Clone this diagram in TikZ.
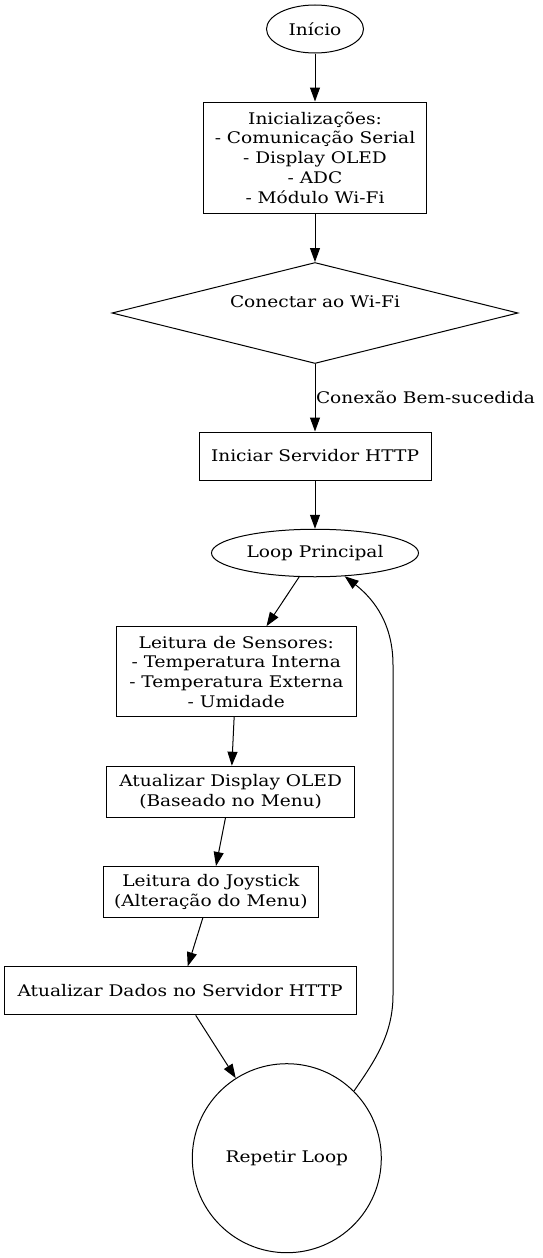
\documentclass[tikz,border=0pt]{standalone}
\usepackage{fontspec}
\setmainfont{DejaVu Serif}[FakeStretch=1.16]
\usetikzlibrary{shapes.geometric,arrows.meta,positioning}

\begin{document}
\begin{tikzpicture}[x=1pt,y=-1pt,auto,line width=1pt,
   font=\fontsize{16}{19.7}\selectfont,
   >={Triangle[length=14pt,width=10pt]},
   terminal/.style={ellipse,draw,inner sep=0pt},
   process/.style={rectangle,draw,align=center,inner sep=0pt},
   decision/.style={diamond,draw,aspect=4,inner sep=0pt},
   repeater/.style={circle,draw,inner sep=0pt}]
   \useasboundingbox (0,0) rectangle (542,1258);

   \node (start) [terminal, minimum width=97pt, minimum height=48pt] at (315,29) {Início};
   \node (init) [process, below of=start, node distance=128.5pt,
      minimum width=223pt, minimum height=111pt]
      {Inicializações:\\- Comunicação Serial\\- Display OLED\\- ADC\\- Módulo Wi-Fi};
   \node (wifi) [decision, below of=init, node distance=155.5pt,
      minimum width=406pt, minimum height=101pt, text height=12pt, text depth=23pt]
      {Conectar ao Wi-Fi};
   \node (http) [process, below of=wifi, node distance=143pt,
      minimum width=232pt, minimum height=48pt] {Iniciar Servidor HTTP};
   \node (mainloop) [terminal, below of=http, node distance=97pt,
      minimum width=207pt, minimum height=47.5pt] {Loop Principal};
   \node (sensors) [process, below of=mainloop, node distance=118.7pt, xshift=-78.7pt,
      minimum width=240pt, minimum height=90pt]
      {Leitura de Sensores:\\- Temperatura Interna\\- Temperatura Externa\\- Umidade};
   \node (display) [process, below of=sensors, node distance=120pt, xshift=-5.7pt,
      minimum width=248pt, minimum height=51pt]
      {Atualizar Display OLED\\(Baseado no Menu)};
   \node (joystick) [process, below of=display, node distance=100.3pt, xshift=-19.7pt,
      minimum width=215pt, minimum height=51pt]
      {Leitura do Joystick\\(Alteração do Menu)};
   \node (dados) [process, below of=joystick, node distance=98.8pt, xshift=-30.8pt,
      minimum width=352pt, minimum height=48pt] {Atualizar Dados no Servidor HTTP};
   \node (again) [repeater, below of=dados, node distance=167.4pt, xshift=106.7pt,
      minimum size=189pt] {Repetir Loop};

   \coordinate (back1) at (393,995);
   \coordinate (back2) at (393,665);

   \draw[->] (start) -- (init);
   \draw[->] (init) -- (wifi);
   \draw[->] (wifi) to node [inner sep=0.5pt] {Conexão Bem-sucedida} (http);
   \draw[->] (http) -- (mainloop);
   \draw[->] (mainloop) -- (sensors);
   \draw[->] (sensors) -- (display);
   \draw[->] (display) -- (joystick);
   \draw[->] (joystick) -- (dados);
   \draw[->] (dados) -- (again);
   \draw[->] (again.45) .. controls (374,1062) and (393,1035) .. (back1) -- (back2)
      .. controls (393,625) and (375,600) .. (mainloop);
\end{tikzpicture}
\end{document}
